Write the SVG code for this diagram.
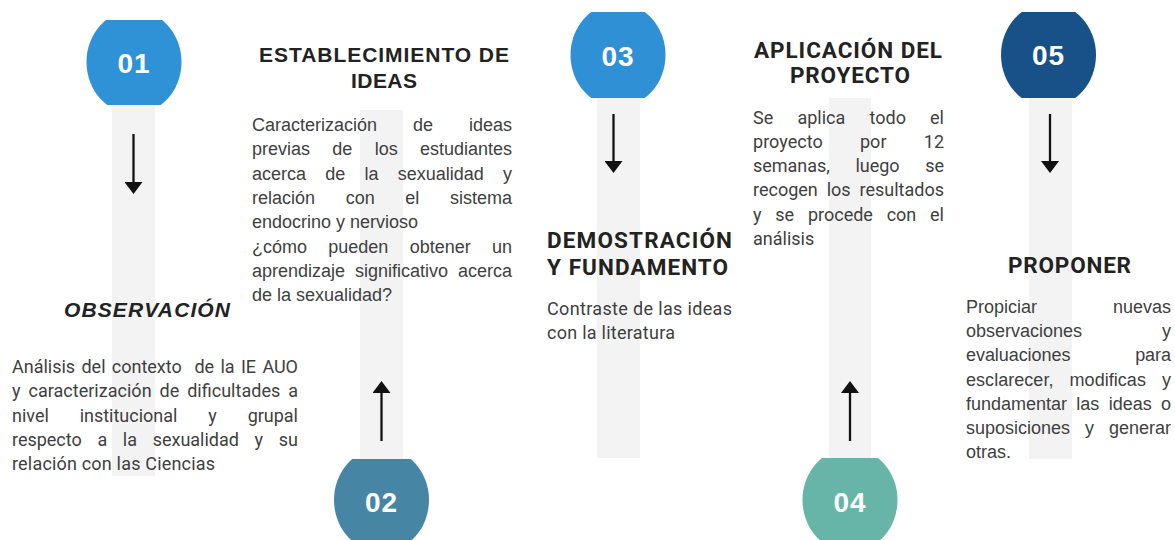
<svg xmlns="http://www.w3.org/2000/svg" width="1175" height="540" viewBox="0 0 1175 540">
<style>
.pillar{fill:#f3f3f3}
.num{font-family:"Liberation Sans",Arial,sans-serif;font-weight:bold;font-size:28px;fill:#ffffff;text-anchor:middle;letter-spacing:1px}
.ttl{font-family:"Liberation Sans",Arial,sans-serif;font-weight:bold;font-size:21px;fill:#222222}
.ttlr{font-family:Roboto,"Liberation Sans",sans-serif;font-weight:bold;font-size:22.5px;fill:#222222}
.bw{font-family:"Liberation Sans",Arial,sans-serif;font-size:18px;fill:#404040}
.bn{font-family:Roboto,"Liberation Sans",sans-serif;font-size:18px;fill:#404040}
.arrow{stroke:#111111;stroke-width:2.3;fill:none;marker-end:url(#ah)}
</style>
<defs>
<marker id="ah" viewBox="0 0 12 18" refX="4" refY="9" markerWidth="12" markerHeight="18" orient="auto" markerUnits="userSpaceOnUse">
<path d="M0,0 L12,9 L0,18 Z" fill="#111111"/>
</marker>
<clipPath id="c1"><rect x="80" y="20" width="110" height="85"/></clipPath>
<clipPath id="c2"><rect x="320" y="459" width="125" height="90"/></clipPath>
<clipPath id="c3"><rect x="560" y="12" width="120" height="86"/></clipPath>
<clipPath id="c4"><rect x="790" y="458" width="120" height="90"/></clipPath>
<clipPath id="c5"><rect x="990" y="12" width="120" height="86"/></clipPath>
</defs>
<rect width="1175" height="540" fill="#ffffff"/>

<g id="step-01">
<rect class="pillar" x="112" y="105" width="43" height="371"/>
<ellipse cx="134" cy="62" rx="47.5" ry="52" fill="#2f91d6" clip-path="url(#c1)"/>
<text class="num" x="134" y="73">01</text>
</g>
<g id="step-02">
<rect class="pillar" x="360" y="110" width="43" height="349"/>
<ellipse cx="381.5" cy="500" rx="47.5" ry="52" fill="#4785a5" clip-path="url(#c2)"/>
<text class="num" x="381.5" y="512">02</text>
</g>
<g id="step-03">
<rect class="pillar" x="597" y="98" width="43" height="360"/>
<ellipse cx="618" cy="55" rx="47.5" ry="52" fill="#2f90d6" clip-path="url(#c3)"/>
<text class="num" x="618" y="66">03</text>
</g>
<g id="step-04">
<rect class="pillar" x="829" y="98" width="42" height="360"/>
<ellipse cx="850" cy="500" rx="47.5" ry="52" fill="#67b5a8" clip-path="url(#c4)"/>
<text class="num" x="850" y="512">04</text>
</g>
<g id="step-05">
<rect class="pillar" x="1029" y="98" width="43" height="361"/>
<ellipse cx="1048.5" cy="55" rx="47.5" ry="52" fill="#175187" clip-path="url(#c5)"/>
<text class="num" x="1048.5" y="65">05</text>
</g>

<g id="connectors">
<line class="arrow" x1="133.5" y1="134" x2="133.5" y2="186"/>
<line class="arrow" x1="381.5" y1="441" x2="381.5" y2="389"/>
<line class="arrow" x1="613.5" y1="114" x2="613.5" y2="165"/>
<line class="arrow" x1="850" y1="441" x2="850" y2="389"/>
<line class="arrow" x1="1050" y1="114" x2="1050" y2="165"/>
</g>

<g id="text-observacion">
<text class="ttl" x="64" y="317" font-style="italic" font-size="19" textLength="166" lengthAdjust="spacing">OBSERVACIÓN</text>
<text class="bn" x="12" y="373" textLength="286" lengthAdjust="spacing" word-spacing="1.9">Análisis del contexto&#160; de la IE AUO</text>
<text class="bn" x="12" y="397.3" textLength="286" lengthAdjust="spacing" word-spacing="3.4">y caracterización de dificultades a</text>
<text class="bn" x="12" y="421.6" textLength="286" lengthAdjust="spacing" word-spacing="26.4">nivel institucional y grupal</text>
<text class="bn" x="12" y="446" textLength="286" lengthAdjust="spacing" word-spacing="11.2">respecto a la sexualidad y su</text>
<text class="bn" x="12" y="470.3" textLength="203" lengthAdjust="spacing">relación con las Ciencias</text>
</g>

<g id="text-establecimiento">
<text class="ttl" x="259" y="61.5" textLength="250" lengthAdjust="spacing">ESTABLECIMIENTO DE</text>
<text class="ttl" x="351" y="88" textLength="66" lengthAdjust="spacing">IDEAS</text>
<text class="bw" x="252" y="131" textLength="260" lengthAdjust="spacing" word-spacing="30.9">Caracterización de ideas</text>
<text class="bw" x="252" y="155.3" textLength="260" lengthAdjust="spacing" word-spacing="17.3">previas de los estudiantes</text>
<text class="bw" x="252" y="179.6" textLength="260" lengthAdjust="spacing" word-spacing="14.2">acerca de la sexualidad y</text>
<text class="bw" x="252" y="203.9" textLength="260" lengthAdjust="spacing" word-spacing="25.6">relación con el sistema</text>
<text class="bw" x="252" y="228.2">endocrino y nervioso</text>
<text class="bw" x="252" y="252.5" textLength="260" lengthAdjust="spacing" word-spacing="16.3">¿cómo pueden obtener un</text>
<text class="bw" x="252" y="276.8" textLength="260" lengthAdjust="spacing" word-spacing="5">aprendizaje significativo acerca</text>
<text class="bw" x="252" y="301.1">de la sexualidad?</text>
</g>

<g id="text-demostracion">
<text class="ttlr" x="547" y="248" font-size="23" textLength="185" lengthAdjust="spacing">DEMOSTRACIÓN</text>
<text class="ttlr" x="547" y="275" font-size="23" textLength="181" lengthAdjust="spacing">Y FUNDAMENTO</text>
<text class="bn" x="547" y="315" textLength="185" lengthAdjust="spacing">Contraste de las ideas</text>
<text class="bn" x="547" y="339.3" textLength="128" lengthAdjust="spacing">con la literatura</text>
</g>

<g id="text-aplicacion">
<text class="ttlr" x="754" y="58" font-size="21.5" textLength="188" lengthAdjust="spacing">APLICACIÓN DEL</text>
<text class="ttlr" x="790" y="83" textLength="120" lengthAdjust="spacing">PROYECTO</text>
<text class="bn" x="753" y="123.5" textLength="191" lengthAdjust="spacing" word-spacing="19.7">Se aplica todo el</text>
<text class="bn" x="753" y="147.8" textLength="191" lengthAdjust="spacing" word-spacing="32.7">proyecto por 12</text>
<text class="bn" x="753" y="172.1" textLength="191" lengthAdjust="spacing" word-spacing="21.1">semanas, luego se</text>
<text class="bn" x="753" y="196.4" textLength="191" lengthAdjust="spacing" word-spacing="4.4">recogen los resultados</text>
<text class="bn" x="753" y="220.7" textLength="191" lengthAdjust="spacing" word-spacing="9.3">y se procede con el</text>
<text class="bn" x="753" y="245">análisis</text>
</g>

<g id="text-proponer">
<text class="ttlr" x="1008" y="272.5" font-size="23" textLength="123" lengthAdjust="spacing">PROPONER</text>
<text class="bw" x="966" y="313" textLength="205" lengthAdjust="spacing" word-spacing="71">Propiciar nuevas</text>
<text class="bw" x="966" y="337.2" textLength="205" lengthAdjust="spacing" word-spacing="75">observaciones y</text>
<text class="bw" x="966" y="361.3" textLength="205" lengthAdjust="spacing" word-spacing="59.9">evaluaciones para</text>
<text class="bw" x="966" y="385.5" textLength="205" lengthAdjust="spacing" word-spacing="11">esclarecer, modificas y</text>
<text class="bw" x="966" y="409.6" textLength="205" lengthAdjust="spacing" word-spacing="4.3">fundamentar las ideas o</text>
<text class="bw" x="966" y="433.8" textLength="205" lengthAdjust="spacing" word-spacing="10">suposiciones y generar</text>
<text class="bw" x="966" y="458">otras.</text>
</g>
</svg>
